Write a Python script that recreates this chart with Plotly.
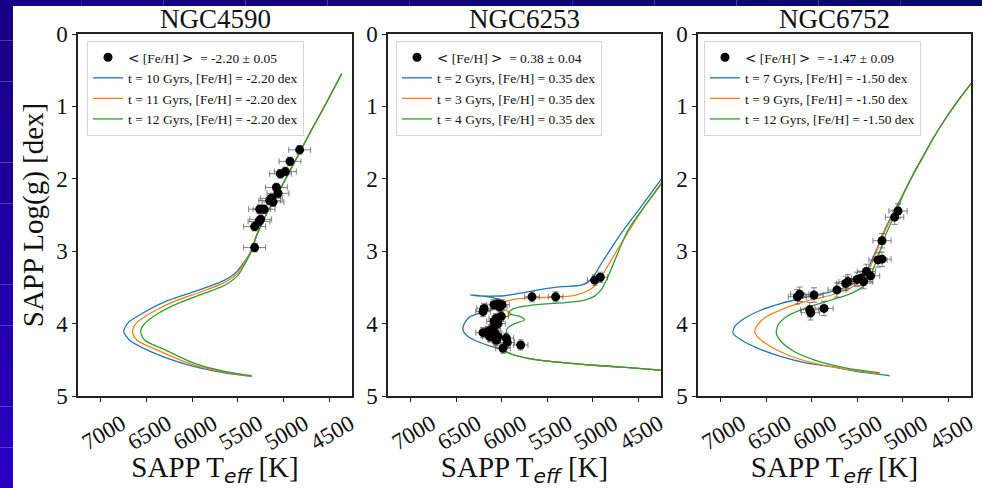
import plotly.graph_objects as go

SERIF = "Liberation Serif"
SANS = "DejaVu Sans"

# ---------------------------------------------------------------- axes
teff_range = [7250, 4250]
logg_range = [5, 0]
teff_ticks = [7000, 6500, 6000, 5500, 5000, 4500]
logg_ticks = [0, 1, 2, 3, 4, 5]

clusters = ["NGC4590", "NGC6253", "NGC6752"]
mean_feh = ["-2.20 ± 0.05", "0.38 ± 0.04", "-1.47 ± 0.09"]
iso_feh = ["-2.20", "0.35", "-1.50"]
iso_ages = [[10, 11, 12], [2, 3, 4], [7, 9, 12]]
iso_colors = ["#1f77b4", "#ff7f0e", "#2ca02c"]

# ---------------------------------------------------------------- NGC4590 stars
n4590_teff = [4823, 4929, 4980, 5034, 5078, 5060, 5133, 5115, 5151, 5213,
              5261, 5250, 5268, 5316, 5316]
n4590_logg = [1.60, 1.76, 1.90, 1.93, 2.12, 2.20, 2.27, 2.32, 2.30, 2.42,
              2.42, 2.56, 2.59, 2.66, 2.95]
n4590_teff_err = [120] * 15
n4590_logg_err = [0.06] * 15

# NGC4590 isochrones (10, 11, 12 Gyr)
n4590_rgb_teff = [5300, 5200, 5060, 4900, 4695, 4530, 4363]
n4590_rgb_logg = [2.80, 2.52, 2.20, 1.82, 1.33, 0.95, 0.55]
n4590_t10_teff = [5345, 5644, 6046, 6447, 6684, 6750, 6703, 6520, 6265, 5936,
                  5680, 5535, 5425, 5352]
n4590_t10_logg = [4.73, 4.68, 4.57, 4.39, 4.23, 4.11, 3.99, 3.84, 3.68, 3.54,
                  3.42, 3.31, 3.14, 2.99]
n4590_t11_teff = [5348, 5644, 6009, 6374, 6604, 6655, 6611, 6447, 6210, 5900,
                  5662, 5516, 5418, 5348]
n4590_t11_logg = [4.725, 4.67, 4.56, 4.37, 4.23, 4.11, 3.99, 3.85, 3.70, 3.56,
                  3.44, 3.32, 3.14, 2.99]
n4590_t12_teff = [5352, 5644, 5973, 6301, 6520, 6564, 6520, 6374, 6155, 5863,
                  5644, 5498, 5407, 5345]
n4590_t12_logg = [4.72, 4.66, 4.55, 4.36, 4.23, 4.11, 4.00, 3.86, 3.72, 3.58,
                  3.47, 3.33, 3.14, 2.98]

# ---------------------------------------------------------------- NGC6253 stars
n6253_teff = [4979, 4917, 5668, 5408, 6195, 6206, 6085, 6041, 5997, 6023,
              6005, 6060, 6085, 6041, 6206, 6151, 6114, 6078, 6133, 6041,
              6060, 5950, 5939, 5986, 5792, 6096]
n6253_logg = [3.40, 3.36, 3.63, 3.63, 3.79, 3.835, 3.74, 3.73, 3.74, 3.77,
              3.90, 3.93, 3.97, 4.00, 4.125, 4.11, 4.09, 4.13, 4.18, 4.18,
              4.23, 4.20, 4.26, 4.34, 4.295, 4.065]
n6253_teff_err = [80] * 26
n6253_logg_err = [0.07] * 26

# NGC6253 isochrones (2, 3, 4 Gyr)
n6253_ms_teff = [4100, 4239, 4686, 5052, 5418, 5712, 5895, 6005]
n6253_ms_logg = [4.67, 4.645, 4.60, 4.57, 4.53, 4.48, 4.42, 4.355]
n6253_t2_teff = [6151, 6298, 6389, 6426, 6415, 6371, 6342, 6250, 6100, 6010,
                 5990, 6100, 6250, 6341, 6280, 6150, 5970, 5800, 5580, 5345,
                 5125, 5016, 4906, 4686, 4466, 4239, 4100]
n6253_t2_logg = [4.30, 4.23, 4.16, 4.09, 4.01, 3.93, 3.90, 3.86, 3.80, 3.74,
                 3.69, 3.64, 3.615, 3.605, 3.615, 3.62, 3.615, 3.58, 3.53, 3.49,
                 3.47, 3.39, 3.17, 2.75, 2.38, 1.99, 1.74]
n6253_t3_teff = [6080, 6130, 6160, 6150, 6060, 5960, 5894, 5950, 6040, 6010,
                 5880, 5700, 5420, 5200, 5060, 4980, 4906, 4686, 4466, 4239,
                 4100]
n6253_t3_logg = [4.30, 4.22, 4.12, 4.03, 3.96, 3.91, 3.87, 3.82, 3.77, 3.72,
                 3.67, 3.645, 3.635, 3.61, 3.55, 3.48, 3.35, 2.89, 2.45, 2.04,
                 1.79]
n6253_t4_teff = [5960, 5955, 5940, 5860, 5748, 5800, 5931, 5880, 5750, 5550,
                 5300, 5100, 4980, 4900, 4832, 4613, 4400, 4239, 4100]
n6253_t4_logg = [4.28, 4.18, 4.07, 4.00, 3.95, 3.90, 3.86, 3.80, 3.76, 3.73,
                 3.71, 3.68, 3.62, 3.52, 3.35, 2.71, 2.33, 2.06, 1.82]

# ---------------------------------------------------------------- NGC6752 stars
n6752_teff = [5052, 5089, 5228, 5272, 5228, 5400, 5353, 5430, 5462, 5503,
              5602, 5627, 5723, 5975, 6133, 6158, 6023, 6012, 5865]
n6752_logg = [2.445, 2.53, 2.855, 3.12, 3.11, 3.28, 3.34, 3.42, 3.375, 3.39,
              3.42, 3.445, 3.535, 3.605, 3.595, 3.63, 3.81, 3.85, 3.79]
n6752_teff_err = [100] * 19
n6752_logg_err = [0.10] * 19

# NGC6752 isochrones (7, 9, 12 Gyr)
n6752_rgb_teff = [4990, 4890, 4780, 4660, 4520, 4380, 4239, 4100]
n6752_rgb_logg = [2.20, 1.95, 1.70, 1.43, 1.15, 0.90, 0.67, 0.44]
n6752_t7_teff = [5144, 5492, 5785, 6078, 6334, 6591, 6774, 6865, 6847, 6737,
                 6554, 6334, 6078, 5785, 5565, 5437, 5364, 5290, 5199, 5089]
n6752_t7_logg = [4.72, 4.664, 4.595, 4.54, 4.457, 4.342, 4.227, 4.135, 4.043, 3.927,
                 3.812, 3.72, 3.642, 3.559, 3.467, 3.352, 3.19, 2.984, 2.707, 2.431]
n6752_t9_teff = [5243, 5602, 5968, 6261, 6481, 6598, 6627, 6598, 6499, 6298,
                 6041, 5785, 5565, 5437, 5364, 5290, 5199, 5081]
n6752_t9_logg = [4.696, 4.632, 4.549, 4.434, 4.296, 4.181, 4.112, 4.02, 3.905, 3.789,
                 3.683, 3.605, 3.499, 3.398, 3.237, 3.007, 2.73, 2.44]
n6752_t12_teff = [5254, 5602, 5968, 6188, 6334, 6389, 6371, 6279, 6078, 5785,
                  5565, 5418, 5345, 5272, 5180, 5070]
n6752_t12_logg = [4.678, 4.618, 4.503, 4.388, 4.25, 4.135, 4.02, 3.905, 3.789, 3.674,
                  3.582, 3.467, 3.306, 3.076, 2.753, 2.454]

panels = [
    dict(stars=(n4590_teff, n4590_logg, n4590_teff_err, n4590_logg_err),
         isos=[(n4590_t10_teff + n4590_rgb_teff, n4590_t10_logg + n4590_rgb_logg),
               (n4590_t11_teff + n4590_rgb_teff, n4590_t11_logg + n4590_rgb_logg),
               (n4590_t12_teff + n4590_rgb_teff, n4590_t12_logg + n4590_rgb_logg)]),
    dict(stars=(n6253_teff, n6253_logg, n6253_teff_err, n6253_logg_err),
         isos=[(n6253_ms_teff + n6253_t2_teff, n6253_ms_logg + n6253_t2_logg),
               (n6253_ms_teff + n6253_t3_teff, n6253_ms_logg + n6253_t3_logg),
               (n6253_ms_teff + n6253_t4_teff, n6253_ms_logg + n6253_t4_logg)]),
    dict(stars=(n6752_teff, n6752_logg, n6752_teff_err, n6752_logg_err),
         isos=[(n6752_t7_teff + n6752_rgb_teff, n6752_t7_logg + n6752_rgb_logg),
               (n6752_t9_teff + n6752_rgb_teff, n6752_t9_logg + n6752_rgb_logg),
               (n6752_t12_teff + n6752_rgb_teff, n6752_t12_logg + n6752_rgb_logg)]),
]

W, H = 982, 488
ML, MR, MT, MB = 78, 11, 34, 92
PW = W - ML - MR
PH = H - MT - MB
panel_px = [(78, 352), (388, 661), (698, 971)]
legend_px = [87, 396, 704]


def px_x(px):
    return (px - ML) / PW


def px_y(py):
    return (H - MB - py) / PH


fig = go.Figure()
x_title = ("SAPP T<sub><i><span style='font-family:DejaVu Sans'>eff</span></i></sub> [K]")

for i, p in enumerate(panels):
    sfx = "" if i == 0 else str(i + 1)
    leg = "legend" if i == 0 else "legend" + str(i + 1)
    for k, (tx, ly) in enumerate(p["isos"]):
        fig.add_trace(go.Scatter(
            x=tx, y=ly, mode="lines",
            line=dict(color=iso_colors[k], width=1.3, shape="spline", smoothing=0.7),
            name=f"t = {iso_ages[i][k]} Gyrs, [Fe/H] = {iso_feh[i]} dex",
            xaxis="x" + sfx, yaxis="y" + sfx, legend=leg, legendrank=2 + k,
        ))
    t, g, te, ge = p["stars"]
    fig.add_trace(go.Scatter(
        x=t, y=g, mode="markers",
        marker=dict(color="black", size=9),
        error_x=dict(type="data", array=te, color="rgba(90,90,90,0.75)", thickness=1, width=3),
        error_y=dict(type="data", array=ge, color="rgba(90,90,90,0.75)", thickness=1, width=3),
        name=(f"<span style='font-family:DejaVu Sans'>&lt;</span> [Fe/H] "
              f"<span style='font-family:DejaVu Sans'>&gt;</span>  = {mean_feh[i]}"),
        xaxis="x" + sfx, yaxis="y" + sfx, legend=leg, legendrank=1,
    ))

axis_common = dict(showline=True, mirror=True, linecolor="#222", linewidth=1.5,
                   ticks="outside", ticklen=4, tickwidth=1.2, tickcolor="#222",
                   showgrid=False, zeroline=False, automargin=False,
                   tickfont=dict(family=SERIF, size=23, color="#111"))

layout = dict(
    width=W, height=H,
    margin=dict(l=ML, r=MR, t=MT, b=MB, pad=0, autoexpand=False),
    paper_bgcolor="white", plot_bgcolor="white",
    showlegend=True,
    font=dict(family=SERIF, color="#111"),
)

for i in range(3):
    sfx = "" if i == 0 else str(i + 1)
    x0, x1 = panel_px[i]
    layout["xaxis" + sfx] = dict(
        axis_common, domain=[px_x(x0), px_x(x1)], range=teff_range,
        tickvals=teff_ticks, tickangle=-30, anchor="y" + sfx,
        ticklabelstandoff=0, ticklabelshift=-21,
        title=dict(text=x_title, font=dict(family=SERIF, size=29, color="#111"), standoff=6),
    )
    layout["yaxis" + sfx] = dict(
        axis_common, domain=[0, 1], range=logg_range, tickvals=logg_ticks,
        anchor="x" + sfx,
        title=dict(text="SAPP Log(g) [dex]" if i == 0 else "",
                   font=dict(family=SERIF, size=29, color="#111"), standoff=4),
    )
    leg = "legend" if i == 0 else "legend" + str(i + 1)
    layout[leg] = dict(
        x=px_x(legend_px[i]), y=px_y(41), xref="paper", yref="paper",
        xanchor="left", yanchor="top",
        font=dict(family=SERIF, size=13.5, color="#111"),
        bgcolor="rgba(255,255,255,0.9)", bordercolor="#d4d4d4", borderwidth=1,
        tracegroupgap=0, itemwidth=30,
    )

fig.update_layout(**layout)

# panel titles
for i, name in enumerate(clusters):
    x0, x1 = panel_px[i]
    fig.add_annotation(
        text=name, x=px_x((x0 + x1) / 2), y=1, xref="paper", yref="paper",
        xanchor="center", yanchor="bottom", showarrow=False, yshift=-2,
        font=dict(family=SERIF, size=27, color="#111"),
    )

# slide frame: dark top strip and blue left strip
n_strips = 12
for j in range(n_strips):
    f = j / (n_strips - 1)
    r = int(0x17 + (0x29 - 0x17) * f)
    b = int(0x84 + (0xc2 - 0x84) * f)
    y_top = j * H / n_strips
    y_bot = (j + 1) * H / n_strips
    fig.add_shape(type="rect", xref="paper", yref="paper",
                  x0=px_x(0), x1=px_x(13), y0=px_y(y_bot), y1=px_y(y_top),
                  fillcolor=f"rgb({r},0,{b})", line=dict(width=0), layer="above")
for j in range(n_strips):
    f = j / (n_strips - 1)
    r = int(0x18 + (0x0b - 0x18) * f)
    g = int(0x00 + (0x0a - 0x00) * f)
    b = int(0x86 + (0x68 - 0x86) * f)
    fig.add_shape(type="rect", xref="paper", yref="paper",
                  x0=px_x(j * W / n_strips), x1=px_x((j + 1) * W / n_strips),
                  y0=px_y(6), y1=px_y(0),
                  fillcolor=f"rgb({r},{g},{b})", line=dict(width=0), layer="above")

fig.write_html("out.html")
